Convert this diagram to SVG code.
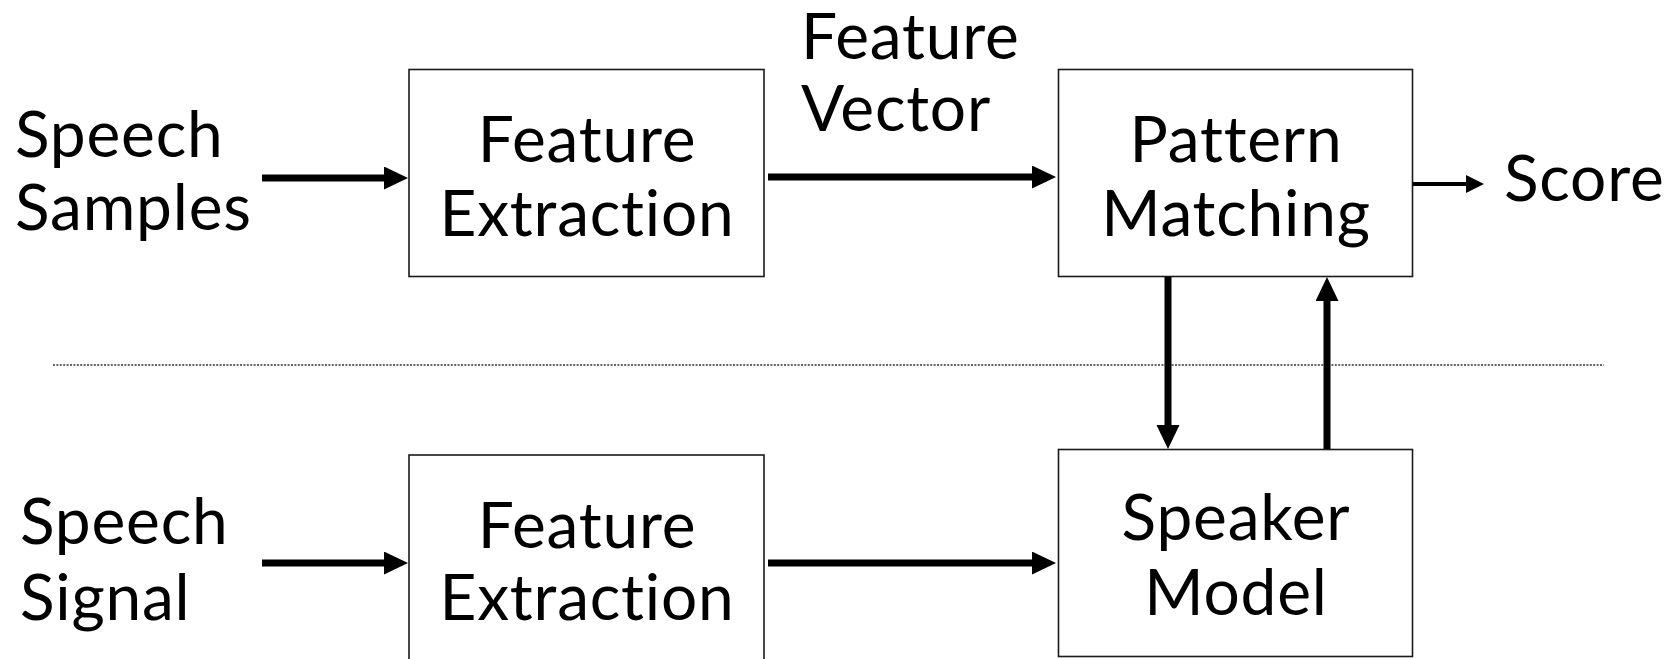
<svg xmlns="http://www.w3.org/2000/svg" width="1680" height="659" viewBox="0 0 1680 659">
  <defs>
    <style>
      .box { fill: #ffffff; stroke: #1a1a1a; stroke-width: 1.6; }
      .lbl { font-family: Lato, "Noto Sans", "Liberation Sans", sans-serif; font-size: 64px; fill: #000000; letter-spacing: 0.8px; font-variant-ligatures: none; font-feature-settings: "liga" 0, "clig" 0; }
      .mid { text-anchor: middle; }
      .flow { stroke: #000000; stroke-width: 7; fill: none; }
      .flow-thin { stroke: #000000; stroke-width: 4; fill: none; }
      .divider { stroke: #333333; stroke-width: 1.6; stroke-dasharray: 2 1.4; }
    </style>
    <marker id="head" markerUnits="userSpaceOnUse" markerWidth="25" markerHeight="25" refX="0" refY="11.5" orient="auto">
      <path d="M0,0 L24,11.5 L0,23 Z" fill="#000000"/>
    </marker>
    <marker id="head-small" markerUnits="userSpaceOnUse" markerWidth="19" markerHeight="19" refX="0" refY="9" orient="auto">
      <path d="M0,0 L18,9 L0,18 Z" fill="#000000"/>
    </marker>
  </defs>

  <rect width="1680" height="659" fill="#ffffff"/>

  <!-- divider between the verification row and the enrolment row -->
  <line class="divider" x1="53" y1="365" x2="1604" y2="365"/>

  <!-- free-standing labels -->
  <g id="speech-samples">
    <text class="lbl" x="15" y="157">Speech</text>
    <text class="lbl" x="15" y="230">Samples</text>
  </g>
  <g id="feature-vector-label">
    <text class="lbl" x="801" y="59">Feature</text>
    <text class="lbl" x="801" y="131">Vector</text>
  </g>
  <g id="score">
    <text class="lbl" x="1504" y="201">Score</text>
  </g>
  <g id="speech-signal">
    <text class="lbl" x="20" y="544">Speech</text>
    <text class="lbl" x="20" y="620">Signal</text>
  </g>

  <!-- processing blocks -->
  <g id="feature-extraction-top">
    <rect class="box" x="409" y="69.5" width="355" height="207"/>
    <text class="lbl mid" x="587" y="162">Feature</text>
    <text class="lbl mid" x="587" y="236">Extraction</text>
  </g>
  <g id="pattern-matching">
    <rect class="box" x="1058.5" y="69.5" width="354" height="207"/>
    <text class="lbl mid" x="1236" y="162">Pattern</text>
    <text class="lbl mid" x="1236" y="236">Matching</text>
  </g>
  <g id="feature-extraction-bottom">
    <rect class="box" x="409" y="455" width="355" height="230"/>
    <text class="lbl mid" x="587" y="548">Feature</text>
    <text class="lbl mid" x="587" y="620">Extraction</text>
  </g>
  <g id="speaker-model">
    <rect class="box" x="1058.5" y="449.5" width="354" height="207"/>
    <text class="lbl mid" x="1236" y="540">Speaker</text>
    <text class="lbl mid" x="1236" y="615">Model</text>
  </g>

  <!-- connectors -->
  <g id="connectors">
    <line class="flow" x1="262" y1="178" x2="384" y2="178" marker-end="url(#head)"/>
    <line class="flow" x1="768" y1="177" x2="1032" y2="177" marker-end="url(#head)"/>
    <line class="flow-thin" x1="1413" y1="184" x2="1466" y2="184" marker-end="url(#head-small)"/>
    <line class="flow" x1="1168" y1="277" x2="1168" y2="425" marker-end="url(#head)"/>
    <line class="flow" x1="1327" y1="449" x2="1327" y2="301" marker-end="url(#head)"/>
    <line class="flow" x1="262" y1="563" x2="384" y2="563" marker-end="url(#head)"/>
    <line class="flow" x1="768" y1="563" x2="1032" y2="563" marker-end="url(#head)"/>
  </g>
</svg>
